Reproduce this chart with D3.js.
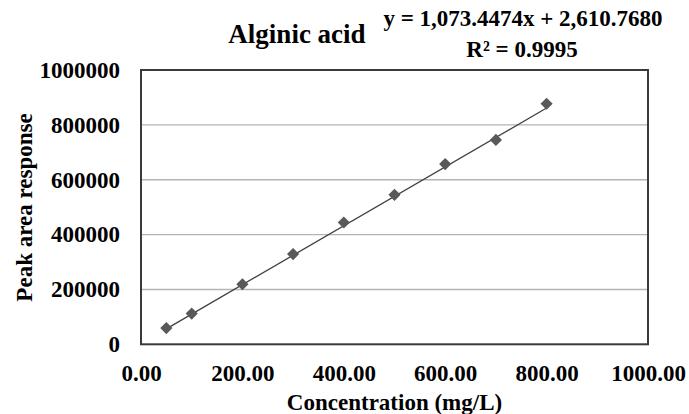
<!DOCTYPE html>
<html>
<head>
<meta charset="utf-8">
<script src="https://cdn.jsdelivr.net/npm/d3@7"></script>
<style>
  html, body { margin: 0; padding: 0; background: #fff; }
  svg { display: block; }
</style>
</head>
<body>
<svg id="chart" width="689" height="414"></svg>
<script>
// Calibration standards: concentration (mg/L) vs. peak area response
const concentrations = [50, 100, 200, 300, 400, 500, 600, 700, 800];
const peakAreas = [59000, 112000, 219000, 329000, 444000, 545000, 657000, 745000, 877000];

// Linear fit reported for the calibration
const slope = 1073.4474;
const intercept = 2610.7680;
const rSquared = 0.9995;

const xTicks = [0, 200, 400, 600, 800, 1000];
const yTicks = [0, 200000, 400000, 600000, 800000, 1000000];

const titleText = "Alginic acid";
const xTitle = "Concentration (mg/L)";
const yTitle = "Peak area response";

const FONT = "'Liberation Serif', 'Times New Roman', Tinos, 'DejaVu Serif', serif";

const svg = d3.select("#chart");
const W = 689, H = 414;
const plot = { left: 141, right: 648, top: 70, bottom: 344.3 };

const x = d3.scaleLinear().domain([0, 1000]).range([plot.left, plot.right]);
const y = d3.scaleLinear().domain([0, 1000000]).range([plot.bottom, plot.top]);

svg.append("rect").attr("width", W).attr("height", H).attr("fill", "#fff");

function styleText(sel, size) {
  sel.style("font-family", FONT)
    .style("font-weight", "bold")
    .style("font-size", size + "px")
    .attr("fill", "#000");
  return sel;
}

// Horizontal gridlines
svg.append("g")
  .selectAll("line")
  .data(yTicks.filter(v => v > 0 && v < 1000000))
  .join("line")
  .attr("x1", plot.left).attr("x2", plot.right)
  .attr("y1", d => y(d)).attr("y2", d => y(d))
  .attr("stroke", "#b4b4b4").attr("stroke-width", 1.4);

// Plot frame
svg.append("rect")
  .attr("x", plot.left).attr("y", plot.top)
  .attr("width", plot.right - plot.left).attr("height", plot.bottom - plot.top)
  .attr("fill", "none").attr("stroke", "#3a3a3a").attr("stroke-width", 2);

// Y axis labels
const yAxis = d3.axisLeft(y).tickValues(yTicks).tickFormat(d3.format("d")).tickSize(0).tickPadding(21);
const gy = svg.append("g").attr("transform", `translate(${plot.left},0)`).call(yAxis);
gy.attr("font-family", null).attr("font-size", null);
gy.select(".domain").remove();
styleText(gy.selectAll("text"), 23);

// X axis labels
const xAxis = d3.axisBottom(x).tickValues(xTicks).tickFormat(d3.format(".2f")).tickSize(0).tickPadding(20);
const gx = svg.append("g").attr("transform", `translate(0,${plot.bottom})`).call(xAxis);
gx.attr("font-family", null).attr("font-size", null);
gx.select(".domain").remove();
styleText(gx.selectAll("text"), 23);

// Trendline from the fitted equation
const xMin = d3.min(concentrations), xMax = d3.max(concentrations);
svg.append("line")
  .attr("x1", x(xMin)).attr("y1", y(slope * xMin + intercept))
  .attr("x2", x(xMax)).attr("y2", y(slope * xMax + intercept))
  .attr("stroke", "#404040").attr("stroke-width", 1.3);

// Data markers (diamonds)
const diamond = d3.symbol().type(d3.symbolSquare).size(74);
svg.append("g")
  .selectAll("path")
  .data(concentrations.map((c, i) => [c, peakAreas[i]]))
  .join("path")
  .attr("d", diamond)
  .attr("transform", d => `translate(${x(d[0])},${y(d[1])}) rotate(45)`)
  .attr("fill", "#595959");

// Titles
styleText(svg.append("text")
  .attr("x", 297).attr("y", 42.5)
  .attr("text-anchor", "middle")
  .text(titleText), 27);

styleText(svg.append("text")
  .attr("x", 523).attr("y", 26)
  .attr("text-anchor", "middle")
  .text(`y = ${d3.format(",.4f")(slope)}x + ${d3.format(",.4f")(intercept)}`), 23);

styleText(svg.append("text")
  .attr("x", 522).attr("y", 57)
  .attr("text-anchor", "middle")
  .text(`R² = ${rSquared.toFixed(4)}`), 23);

styleText(svg.append("text")
  .attr("x", (plot.left + plot.right) / 2).attr("y", 409.5)
  .attr("text-anchor", "middle")
  .text(xTitle), 23);

styleText(svg.append("text")
  .attr("transform", `translate(31.5,${207.5}) rotate(-90)`)
  .attr("text-anchor", "middle")
  .text(yTitle), 23);
</script>
</body>
</html>
